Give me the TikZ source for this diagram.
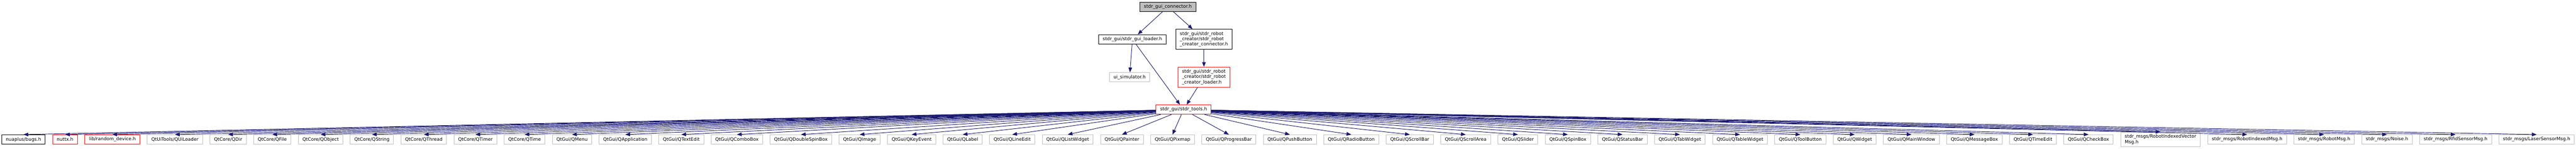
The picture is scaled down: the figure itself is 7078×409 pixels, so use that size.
\documentclass[tikz,border=0pt]{standalone}
\usepackage{fontspec}
\setmainfont{DejaVu Sans}
\usetikzlibrary{arrows.meta,calc}
\definecolor{edgeblue}{HTML}{191970}
\definecolor{graybd}{HTML}{BFBFBF}
\definecolor{redbd}{HTML}{FF0000}
\tikzset{
  box/.style={draw, rectangle, line width=1pt, inner xsep=8.5pt, inner ysep=0pt,
    font=\fontsize{9.5}{11}\selectfont, align=left, fill=white},
  hone/.style={minimum height=19.3pt},
  hthree/.style={minimum height=41.3pt},
  inc/.style={draw=edgeblue, line width=1pt, -{Triangle[length=9.75pt,width=7.5pt]}}
}
\def\botlist{black/19.3/{nuaplus/bugs.h},
redbd/19.3/{nuttx.h},
redbd/19.3/{lib/random\_device.h},
graybd/19.3/{QtUiTools/QUiLoader},
graybd/19.3/{QtCore/QDir},
graybd/19.3/{QtCore/QFile},
graybd/19.3/{QtCore/QObject},
graybd/19.3/{QtCore/QString},
graybd/19.3/{QtCore/QThread},
graybd/19.3/{QtCore/QTimer},
graybd/19.3/{QtCore/QTime},
graybd/19.3/{QtGui/QMenu},
graybd/19.3/{QtGui/QApplication},
graybd/19.3/{QtGui/QTextEdit},
graybd/19.3/{QtGui/QComboBox},
graybd/19.3/{QtGui/QDoubleSpinBox},
graybd/19.3/{QtGui/QImage},
graybd/19.3/{QtGui/QKeyEvent},
graybd/19.3/{QtGui/QLabel},
graybd/19.3/{QtGui/QLineEdit},
graybd/19.3/{QtGui/QListWidget},
graybd/19.3/{QtGui/QPainter},
graybd/19.3/{QtGui/QPixmap},
graybd/19.3/{QtGui/QProgressBar},
graybd/19.3/{QtGui/QPushButton},
graybd/19.3/{QtGui/QRadioButton},
graybd/19.3/{QtGui/QScrollBar},
graybd/19.3/{QtGui/QScrollArea},
graybd/19.3/{QtGui/QSlider},
graybd/19.3/{QtGui/QSpinBox},
graybd/19.3/{QtGui/QStatusBar},
graybd/19.3/{QtGui/QTabWidget},
graybd/19.3/{QtGui/QTableWidget},
graybd/19.3/{QtGui/QToolButton},
graybd/19.3/{QtGui/QWidget},
graybd/19.3/{QtGui/QMainWindow},
graybd/19.3/{QtGui/QMessageBox},
graybd/19.3/{QtGui/QTimeEdit},
graybd/19.3/{QtGui/QCheckBox},
graybd/30.3/{stdr\_msgs/RobotIndexedVector\\Msg.h},
graybd/19.3/{stdr\_msgs/RobotIndexedMsg.h},
graybd/19.3/{stdr\_msgs/RobotMsg.h},
graybd/19.3/{stdr\_msgs/Noise.h},
graybd/19.3/{stdr\_msgs/RfidSensorMsg.h},
graybd/19.3/{stdr\_msgs/LaserSensorMsg.h}}
\newdimen\totw
\newbox\measbox
\begin{document}
% measure the bottom labels (nothing is typeset)
\global\totw=0pt
\foreach \c/\h/\t [count=\i] in \botlist {%
  \global\setbox\measbox\hbox{\fontsize{9.5}{11}\selectfont\begin{tabular}{@{}l@{}}\t\end{tabular}}%
  \global\advance\totw by \wd\measbox
  \global\advance\totw by 18pt
  \xdef\nbot{\i}%
}%
\pgfmathsetmacro\gap{(5302.5-\the\totw)/(\nbot-1)}%
\xdef\gap{\gap}%
\begin{tikzpicture}[x=0.75pt,y=-0.75pt]
\useasboundingbox[fill=white] (0,0) rectangle (7078,409);
% top cluster
\node[box,draw=black,fill=graybd,hone] (root) at (3209,18.7) {stdr\_gui\_connector.h};
\node[box,draw=black,hone] (l1a) at (3111.5,108) {stdr\_gui/stdr\_gui\_loader.h};
\node[box,draw=black,hthree] (l1b) at (3308,108) {stdr\_gui/stdr\_robot\\\_creator/stdr\_robot\\\_creator\_connector.h};
\node[box,draw=graybd,hone] (ui) at (3103.7,212) {ui\_simulator.h};
\node[box,draw=redbd,hthree] (l2b) at (3308,211.8) {stdr\_gui/stdr\_robot\\\_creator/stdr\_robot\\\_creator\_loader.h};
\node[box,draw=redbd,hone] (e2) at (3252,301) {stdr\_gui/stdr\_tools.h};
% bottom row
\foreach \c/\h/\t [count=\i] in \botlist {
  \ifnum\i=1
    \node[box,draw=\c,anchor=west,minimum height=\h pt] (b1) at (4,383) {\t};
  \else
    \pgfmathtruncatemacro\j{\i-1}
    \node[box,draw=\c,anchor=west,minimum height=\h pt] (b\i) at ([xshift=\gap pt]b\j.east) {\t};
  \fi
}
% connectors
\draw[inc] (root) -- (l1a);
\draw[inc] (root) -- (l1b);
\draw[inc] (l1a) -- (ui);
\draw[inc] (l1a) -- (e2);
\draw[inc] (l1b) -- (l2b);
\draw[inc] (l2b) -- (e2);
\foreach \i in {1,...,\nbot} {
  \draw[inc] (e2) -- (b\i.north);
}
\end{tikzpicture}
\end{document}
